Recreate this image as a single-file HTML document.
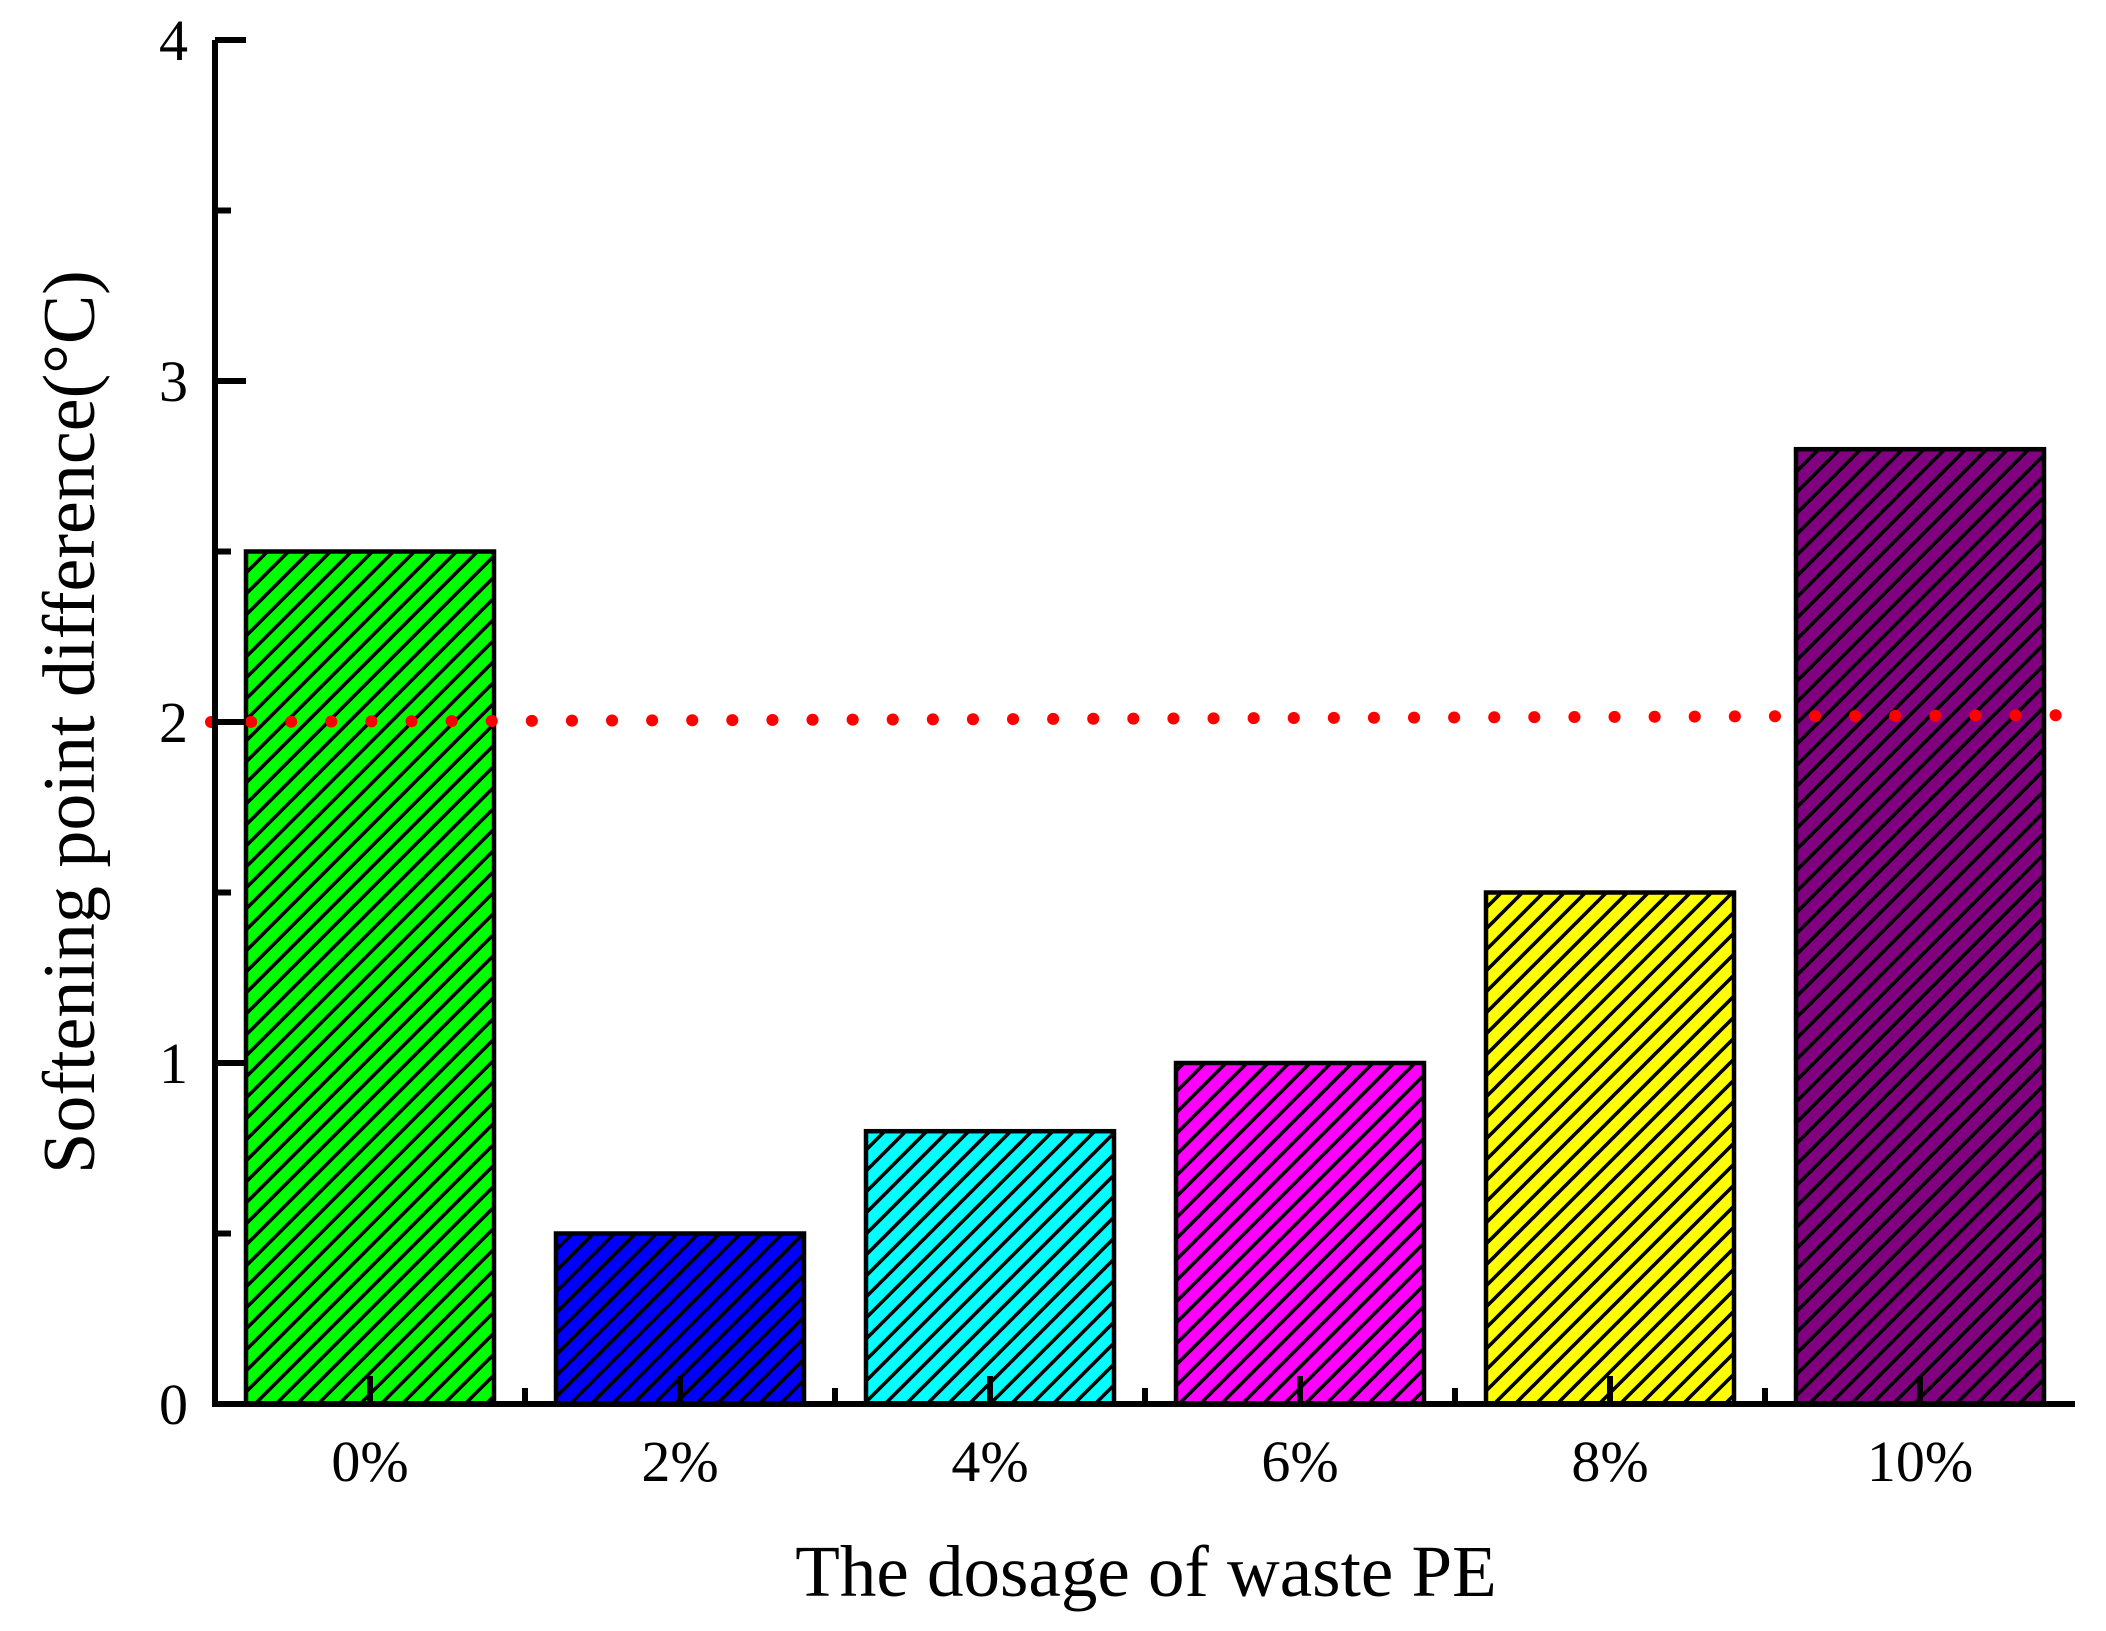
<!DOCTYPE html>
<html><head><meta charset="utf-8"><style>
html,body{margin:0;padding:0;background:#fff}
svg{display:block}
text{font-family:"Liberation Serif",serif;fill:#000}
</style></head><body>
<svg id="chart" width="2106" height="1631" viewBox="0 0 2106 1631" xmlns="http://www.w3.org/2000/svg">
<defs id="defs"></defs>
<g id="bars"></g>
<g id="refline"></g>
<g id="axes"></g>
<text x="1146" y="1596" font-size="73" text-anchor="middle">The dosage of waste PE</text>
<text x="0" y="0" font-size="74" text-anchor="middle" transform="translate(94,722) rotate(-90)">Softening point difference(°C)</text>
</svg>
<script>
const categories = ["0%","2%","4%","6%","8%","10%"];
const values = [2.5,0.5,0.8,1.0,1.5,2.8];
const colors = ["#00ff00","#0000ff","#00ffff","#ff00ff","#ffff00","#800080"];
const yTicks = [0,1,2,3,4];
const yMinorTicks = [0.5,1.5,2.5,3.5];
const refStart = 2.0;
const refEnd = 2.02;

const NS="http://www.w3.org/2000/svg";
const X0=215, X1=2075, Y0=1404, Y1=40, yMax=4;
const step=(X1-X0)/categories.length;
const barW=248;
function yS(v){return Y0-(Y0-Y1)*v/yMax;}
function xC(i){return X0+step*(i+0.5);}
function mk(tag,attrs,parent){const e=document.createElementNS(NS,tag);for(const k in attrs)e.setAttribute(k,attrs[k]);parent.appendChild(e);return e;}

const defs=document.getElementById('defs');
const bars=document.getElementById('bars');
const H=21;
colors.forEach((c,i)=>{
  const p=mk('pattern',{id:'hatch'+i,patternUnits:'userSpaceOnUse',width:H,height:H},defs);
  mk('rect',{width:H,height:H,fill:c},p);
  mk('path',{d:`M-3,3 L3,-3 M0,${H} L${H},0 M${H-3},${H+3} L${H+3},${H-3}`,stroke:'#000','stroke-width':3.6},p);
});
values.forEach((v,i)=>{
  const r=mk('rect',{x:xC(i)-barW/2,y:yS(v),width:barW,height:Y0-yS(v),fill:'url(#hatch'+i+')',stroke:'#000','stroke-width':4.5},bars);
  
  
});

const ref=document.getElementById('refline');
const l=mk('line',{x1:211,y1:yS(refStart),x2:X1,y2:yS(refEnd),stroke:'#ff0000','stroke-width':12,'stroke-linecap':'round','stroke-dasharray':'0.1 40'},ref);



const ax=document.getElementById('axes');
mk('path',{d:`M${X0},${Y1} L${X0},${Y0} L${X1},${Y0}`,fill:'none',stroke:'#000','stroke-width':6},ax);
yTicks.forEach(t=>{
  mk('line',{x1:X0,y1:yS(t),x2:X0+31,y2:yS(t),stroke:'#000','stroke-width':6},ax);
  const tx=mk('text',{x:188,y:yS(t)+20,'font-size':58,'text-anchor':'end'},ax);
  tx.textContent=t;
  
  
});
yMinorTicks.forEach(t=>{
  mk('line',{x1:X0,y1:yS(t),x2:X0+16,y2:yS(t),stroke:'#000','stroke-width':6},ax);
});
categories.forEach((c,i)=>{
  mk('line',{x1:xC(i),y1:Y0,x2:xC(i),y2:Y0-28,stroke:'#000','stroke-width':6},ax);
  if(i>0) mk('line',{x1:X0+step*i,y1:Y0,x2:X0+step*i,y2:Y0-16,stroke:'#000','stroke-width':6},ax);
  const tx=mk('text',{x:xC(i),y:1481,'font-size':58,'text-anchor':'middle'},ax);
  tx.textContent=c;
  
  
});
</script>
</body></html>
